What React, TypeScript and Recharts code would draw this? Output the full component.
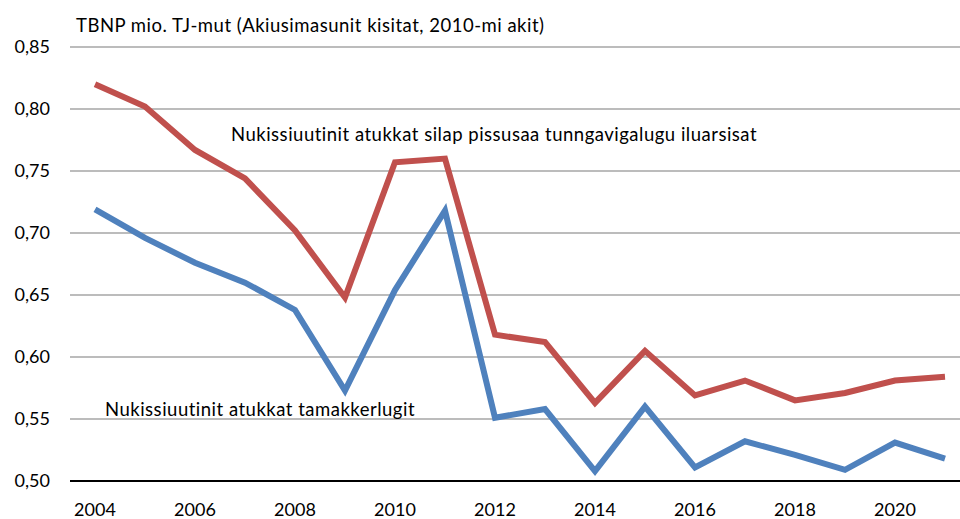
import React from "react";
import { LineChart, Line, XAxis, YAxis, CartesianGrid } from "recharts";

const years = [2004, 2005, 2006, 2007, 2008, 2009, 2010, 2011, 2012, 2013, 2014, 2015, 2016, 2017, 2018, 2019, 2020, 2021];
const adjusted = [0.820, 0.802, 0.767, 0.744, 0.702, 0.648, 0.757, 0.760, 0.618, 0.612, 0.563, 0.605, 0.569, 0.581, 0.565, 0.571, 0.581, 0.584];
const total = [0.719, 0.696, 0.676, 0.660, 0.638, 0.573, 0.654, 0.718, 0.551, 0.558, 0.508, 0.560, 0.511, 0.532, 0.521, 0.509, 0.531, 0.518];
const xTicks = [2004, 2006, 2008, 2010, 2012, 2014, 2016, 2018, 2020];
const yTicks = [0.5, 0.55, 0.6, 0.65, 0.7, 0.75, 0.8, 0.85];

const title = "TBNP mio. TJ-mut (Akiusimasunit kisitat, 2010-mi akit)";
const labelAdjusted = "Nukissiuutinit atukkat silap pissusaa tunngavigalugu iluarsisat";
const labelTotal = "Nukissiuutinit atukkat tamakkerlugit";

const data = years.map((y, i) => ({ year: y, adjusted: adjusted[i], total: total[i] }));

const FONT = "Lato, 'Noto Sans', sans-serif";

const textStyle: React.CSSProperties = {
  position: "absolute",
  fontFamily: FONT,
  fontSize: 18.5,
  lineHeight: "18.5px",
  letterSpacing: "0.5px",
  whiteSpace: "nowrap",
  color: "#000",
};

export default function App() {
  return (
    <div style={{ position: "absolute", left: 0, top: 0, width: 960, height: 519, overflow: "hidden", background: "#fff" }}>
      <LineChart width={970} height={519} data={data} margin={{ top: 47, right: 0, bottom: 8, left: 10 }}>
        <CartesianGrid vertical={false} stroke="#A6A6A6" strokeWidth={1.5} />
        <XAxis
          dataKey="year"
          type="number"
          domain={[2003.5, 2021.5]}
          ticks={xTicks}
          height={30}
          tickLine={false}
          tickSize={0}
          tickMargin={22}
          axisLine={{ stroke: "#000", strokeWidth: 2 }}
          tick={{ fill: "#000", fontSize: 18, fontFamily: FONT }}
        />
        <YAxis
          type="number"
          domain={[0.5, 0.85]}
          ticks={yTicks}
          width={60}
          axisLine={false}
          tickLine={false}
          tickSize={0}
          tickMargin={20}
          tickFormatter={(v: number) => v.toFixed(2).replace(".", ",")}
          tick={{ fill: "#000", fontSize: 18, fontFamily: FONT }}
        />
        <Line dataKey="adjusted" stroke="#C0504D" strokeWidth={6} dot={false} isAnimationActive={false} />
        <Line dataKey="total" stroke="#4F81BD" strokeWidth={6} dot={false} isAnimationActive={false} />
      </LineChart>
      <div style={{ ...textStyle, left: 76, top: 16 }}>{title}</div>
      <div style={{ ...textStyle, left: 231, top: 124.5 }}>{labelAdjusted}</div>
      <div style={{ ...textStyle, left: 105, top: 399.5 }}>{labelTotal}</div>
    </div>
  );
}
